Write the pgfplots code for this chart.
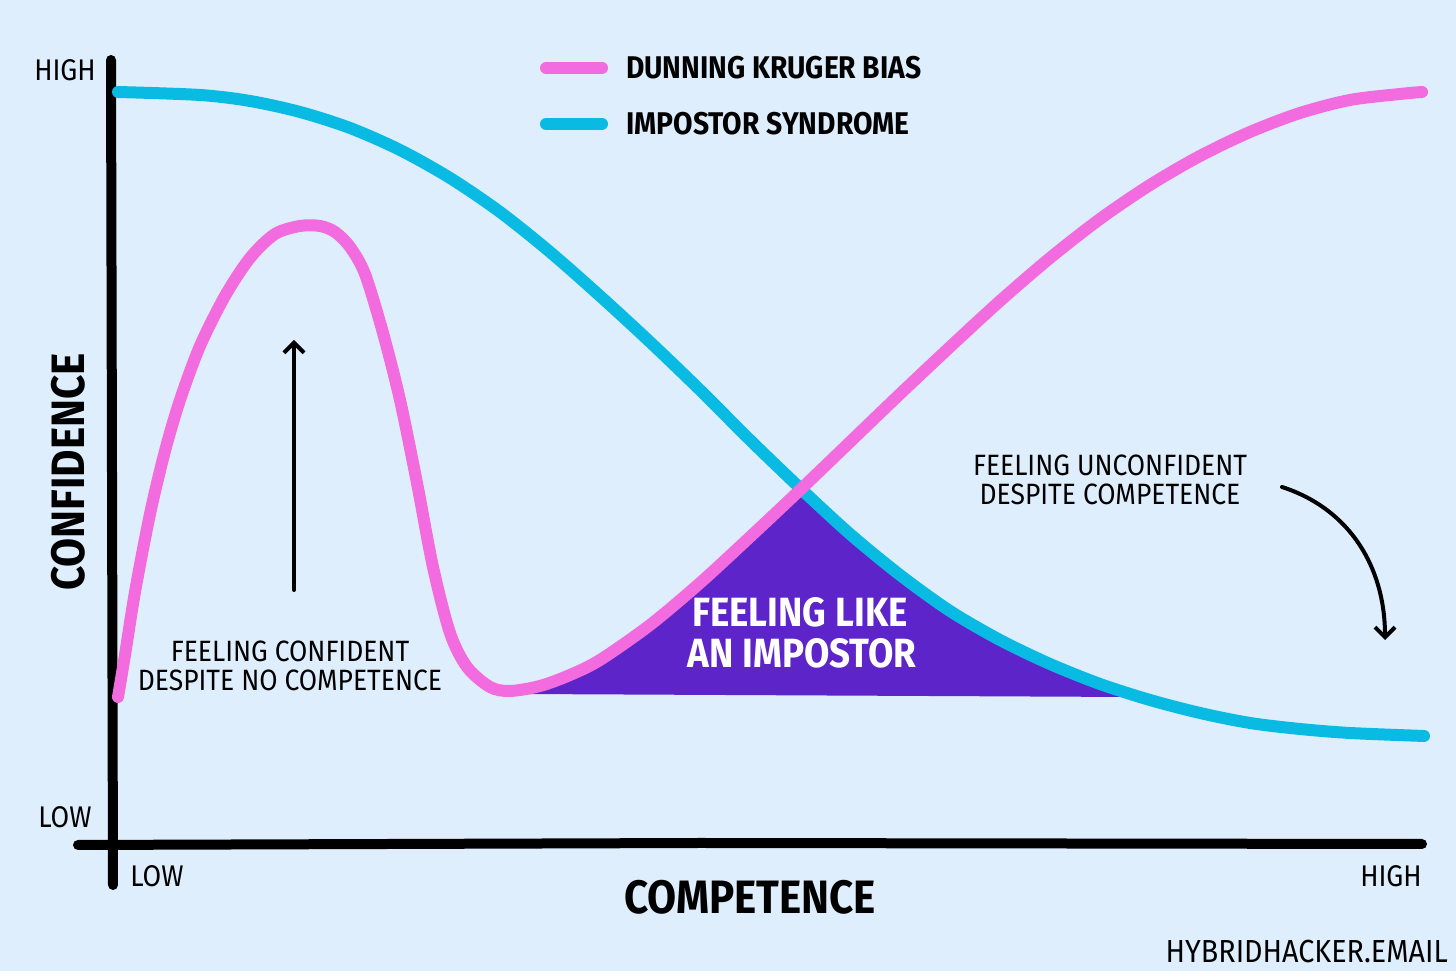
\documentclass[border=0pt]{standalone}
\usepackage{pgfplots}
\pgfplotsset{compat=1.18}
\usetikzlibrary{arrows.meta}
\usepackage{fontspec}
\setmainfont{Fira Sans}
\newfontfamily\hand{Fira Sans}[FakeStretch=0.9]
\definecolor{bgc}{HTML}{DFEEFD}
\definecolor{pinkc}{HTML}{F26BDF}
\definecolor{cyanc}{HTML}{09BBE3}
\definecolor{purp}{HTML}{5C24C9}
\begin{document}
\begin{tikzpicture}
\begin{axis}[
  scale only axis, width=1456bp, height=971bp,
  xmin=0, xmax=1456, ymin=0, ymax=971,
  axis lines=none, xtick=\empty, ytick=\empty,
  axis background/.style={fill=bgc},
  clip=false,
]
% shaded region: feeling like an impostor
\addplot[fill=purp, draw=none] coordinates {
 (520,277) (540,285) (570,296) (600,311) (650,346) (700,388) (750,434) (800,481)
 (850,437) (900,396) (950,360) (1000,331) (1050,307) (1100,287) (1130,276) (1130,274)
} -- cycle;
% axes
\addplot[black, line width=10bp, line cap=round] coordinates {(111,911) (113,86)};
\addplot[black, line width=10bp, line cap=round] coordinates {(78,126) (700,128) (1422,127)};
% Impostor syndrome
\addplot[cyanc, line width=12bp, line cap=round, smooth] coordinates {
 (118,879) (200,876) (250,870) (300,859) (350,843) (400,821) (450,793) (500,759)
 (550,719) (600,675) (650,629) (700,581) (750,531) (800,483) (850,437) (900,396)
 (950,360) (1000,331) (1050,307) (1100,287) (1150,271) (1200,258) (1250,248)
 (1300,242) (1350,238) (1424,235)
};
% Dunning Kruger
\addplot[pinkc, line width=12bp, line cap=round, smooth] coordinates {
 (118,274) (125,316) (135,379) (150,457) (165,520) (180,571) (200,625) (225,675)
 (250,713) (275,737) (300,745) (320,745) (335,739) (350,724) (365,697) (383,638) (400,571)
 (417,488) (433,404) (450,338) (467,304) (490,284) (510,280) (540,285) (570,296)
 (600,311) (650,346) (700,388) (750,434) (800,481) (850,529) (900,577) (950,624)
 (1000,670) (1050,713) (1100,752) (1150,786) (1200,815) (1250,839) (1300,858)
 (1350,871) (1400,877) (1422,879)
};
% legend
\draw[pinkc, line width=12bp, line cap=round] (axis cs:546,903) -- (axis cs:602,903);
\draw[cyanc, line width=12bp, line cap=round] (axis cs:546,847) -- (axis cs:602,847);
\node[anchor=west, inner sep=0pt, font=\hand\bfseries\fontsize{31.5}{34}\selectfont] at (axis cs:626,903) {DUNNING KRUGER BIAS};
\node[anchor=west, inner sep=0pt, font=\hand\bfseries\fontsize{31.5}{34}\selectfont] at (axis cs:626,847) {IMPOSTOR SYNDROME};
% axis labels
\node[inner sep=0pt, font=\hand\fontsize{30}{32}\selectfont] at (axis cs:65,901) {HIGH};
\node[inner sep=0pt, font=\hand\fontsize{30}{32}\selectfont] at (axis cs:65,154) {LOW};
\node[inner sep=0pt, font=\hand\fontsize{30}{32}\selectfont] at (axis cs:157,95) {LOW};
\node[inner sep=0pt, font=\hand\fontsize{30}{32}\selectfont] at (axis cs:1391,95) {HIGH};
\node[inner sep=0pt, rotate=90, font=\hand\bfseries\fontsize{47}{50}\selectfont] at (axis cs:68,499) {CONFIDENCE};
\node[inner sep=0pt, font=\hand\bfseries\fontsize{47}{50}\selectfont] at (axis cs:750,74) {COMPETENCE};
% annotations
\node[inner sep=0pt, font=\hand\fontsize{29.5}{34}\selectfont] at (axis cs:290,320) {FEELING CONFIDENT};
\node[inner sep=0pt, font=\hand\fontsize{29.5}{34}\selectfont] at (axis cs:290,291) {DESPITE NO COMPETENCE};
\node[inner sep=0pt, font=\hand\fontsize{29.5}{34}\selectfont] at (axis cs:1110,506) {FEELING UNCONFIDENT};
\node[inner sep=0pt, font=\hand\fontsize{29.5}{34}\selectfont] at (axis cs:1110,477) {DESPITE COMPETENCE};
\node[inner sep=0pt, text=white, font=\hand\bfseries\fontsize{41}{44}\selectfont] at (axis cs:800,359) {FEELING LIKE};
\node[inner sep=0pt, text=white, font=\hand\bfseries\fontsize{41}{44}\selectfont] at (axis cs:802,318) {AN IMPOSTOR};
\node[anchor=east, inner sep=0pt, font=\hand\fontsize{32}{34}\selectfont] at (axis cs:1448,19) {HYBRIDHACKER.EMAIL};
% arrows
\draw[black, line width=4bp, line cap=round, -{Straight Barb[length=10bp, width=20bp, line width=4bp]}] (axis cs:294,381) -- (axis cs:294,631);
\draw[black, line width=4bp, line cap=round, -{Straight Barb[length=10bp, width=20bp, line width=4bp]}] (axis cs:1282,484) to[out=-18, in=90] (axis cs:1385,331);
\end{axis}
\end{tikzpicture}
\end{document}
